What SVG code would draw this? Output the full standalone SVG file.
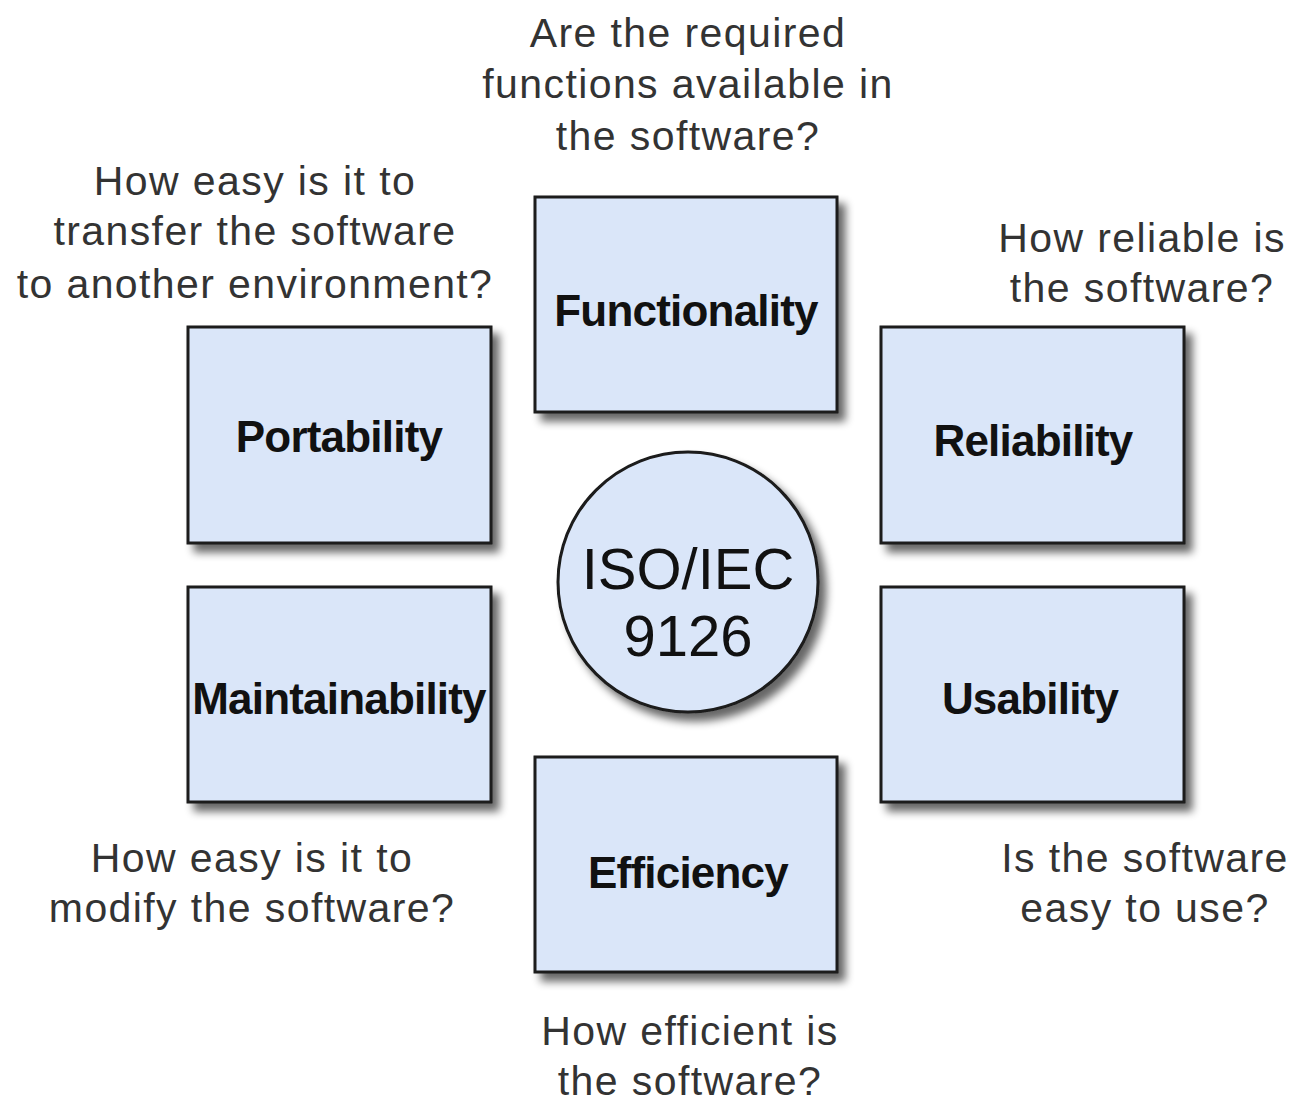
<svg xmlns="http://www.w3.org/2000/svg" width="1295" height="1107" viewBox="0 0 1295 1107">
<style>
.box{fill:#dae6f9;stroke:#1a1a1a;stroke-width:3;filter:url(#sh)}
.lbl{font-family:"Liberation Sans",Arial,sans-serif;font-weight:bold;font-size:44px;letter-spacing:-0.8px;fill:#111;text-anchor:middle}
.q{font-family:"Liberation Sans",Arial,sans-serif;font-size:41px;letter-spacing:1.4px;fill:#333;text-anchor:middle}
.c{font-family:"Liberation Sans",Arial,sans-serif;font-size:58px;fill:#111;text-anchor:middle}
</style>
<defs>
<filter id="sh" x="-10%" y="-10%" width="130%" height="130%">
<feGaussianBlur in="SourceAlpha" stdDeviation="4"/>
<feOffset dx="7" dy="8" result="b"/>
<feComponentTransfer><feFuncA type="linear" slope="0.6"/></feComponentTransfer>
<feMerge><feMergeNode/><feMergeNode in="SourceGraphic"/></feMerge>
</filter>
</defs>
<rect width="1295" height="1107" fill="#fff"/>
<g id="connectors"/>
<g id="functionality"><rect class="box" x="535" y="197" width="302" height="215"/><text class="lbl" x="686" y="326">Functionality</text></g>
<g id="portability"><rect class="box" x="188" y="327" width="303" height="216"/><text class="lbl" x="339" y="452">Portability</text></g>
<g id="reliability"><rect class="box" x="881" y="327" width="303" height="216"/><text class="lbl" x="1033" y="456">Reliability</text></g>
<g id="maintainability"><rect class="box" x="188" y="587" width="303" height="215"/><text class="lbl" x="339" y="714">Maintainability</text></g>
<g id="usability"><rect class="box" x="881" y="587" width="303" height="215"/><text class="lbl" x="1030" y="714">Usability</text></g>
<g id="efficiency"><rect class="box" x="535" y="757" width="302" height="215"/><text class="lbl" x="688" y="888">Efficiency</text></g>
<g id="iso"><circle class="box" cx="688" cy="582" r="130"/><text class="c" x="688" y="589">ISO/IEC</text><text class="c" x="688" y="656">9126</text></g>
<g id="questions">
<text class="q" x="688" y="47">Are the required</text>
<text class="q" x="688" y="98">functions available in</text>
<text class="q" x="688" y="150">the software?</text>
<text class="q" x="255" y="195">How easy is it to</text>
<text class="q" x="255" y="245">transfer the software</text>
<text class="q" x="255" y="298">to another environment?</text>
<text class="q" x="1142" y="252">How reliable is</text>
<text class="q" x="1142" y="302">the software?</text>
<text class="q" x="252" y="872">How easy is it to</text>
<text class="q" x="252" y="922">modify the software?</text>
<text class="q" x="1145" y="872">Is the software</text>
<text class="q" x="1145" y="922">easy to use?</text>
<text class="q" x="690" y="1045">How efficient is</text>
<text class="q" x="690" y="1095">the software?</text>
</g>
</svg>
